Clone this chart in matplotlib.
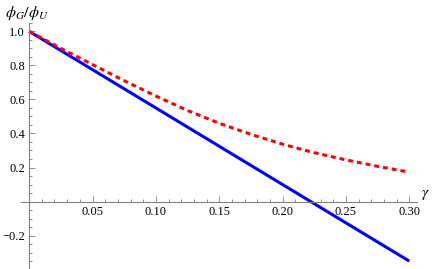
import matplotlib
matplotlib.use("Agg")
import matplotlib.pyplot as plt
from matplotlib.ticker import MultipleLocator, FixedLocator, FuncFormatter

plt.rcParams["font.family"] = ["Liberation Serif", "DejaVu Serif"]
plt.rcParams["mathtext.fontset"] = "stix"

# values
gammaBlue = [0.0, 0.30]
ratioBlue = [1.0, -0.35]

gammaRed = [0.0, 0.025, 0.05, 0.075, 0.10, 0.125, 0.15, 0.175, 0.20, 0.225, 0.25, 0.275, 0.30]
ratioRed = [1.0, 0.90, 0.805, 0.71, 0.62, 0.535, 0.46, 0.395, 0.337, 0.287, 0.245, 0.207, 0.173]

xTicks = [0.05, 0.10, 0.15, 0.20, 0.25, 0.30]
yTicks = [-0.2, 0.2, 0.4, 0.6, 0.8, 1.0]

fig = plt.figure(figsize=(4.36, 2.69), dpi=100)
ax = fig.add_axes([0.048, 0.004, 0.908, 0.911])

ax.plot(gammaBlue, ratioBlue, color=(0, 0, 1), lw=2.2, solid_capstyle="butt")
ax.plot(gammaRed, ratioRed, color=(1, 0, 0), lw=2.2, dashes=(1.6, 1.3))

ax.set_xlim(-0.0065, 0.306)
ax.set_ylim(-0.39, 1.05)

axisColor = "#808080"
for side in ["top", "right"]:
    ax.spines[side].set_visible(False)
ax.spines["left"].set_position("zero")
ax.spines["bottom"].set_position("zero")
for side in ["left", "bottom"]:
    ax.spines[side].set_color(axisColor)
    ax.spines[side].set_linewidth(0.8)

ax.xaxis.set_major_locator(FixedLocator(xTicks))
ax.xaxis.set_minor_locator(MultipleLocator(0.01))
ax.yaxis.set_major_locator(FixedLocator(yTicks))
ax.yaxis.set_minor_locator(MultipleLocator(0.05))
ax.xaxis.set_major_formatter(FuncFormatter(lambda v, p: f"{v:.2f}"))
ax.yaxis.set_major_formatter(FuncFormatter(lambda v, p: f"{v:.1f}".replace("-", "\u2212")))

ax.tick_params(which="both", direction="in", color=axisColor, width=0.6, labelsize=9, labelcolor="black")
ax.tick_params(which="major", length=4, pad=3)
ax.tick_params(which="minor", length=2.2)

fig.text(0.975, 0.275, r"$\gamma$", fontsize=11, ha="center", va="center")
fig.text(0.062, 0.952, r"$\phi_G/\phi_U$", fontsize=11.5, ha="center", va="center")

fig.savefig("out.png", dpi=100)
